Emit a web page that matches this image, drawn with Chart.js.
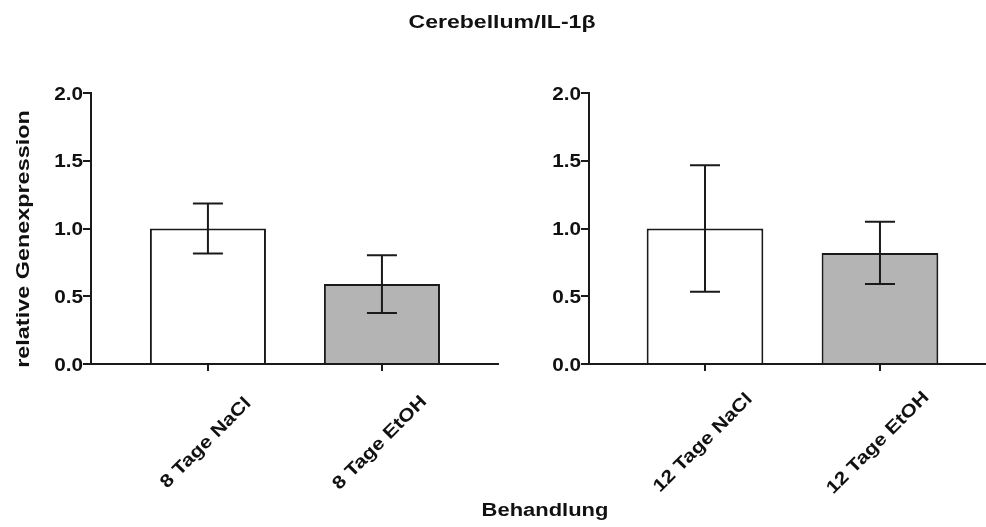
<!DOCTYPE html>
<html>
<head>
<meta charset="utf-8">
<script src="https://cdn.jsdelivr.net/npm/chart.js@4.4.1/dist/chart.umd.min.js"></script>
<style>
  html, body { margin: 0; padding: 0; background: #fff; }
  #wrap { position: relative; width: 986px; height: 527px; overflow: hidden;
          font-family: "Liberation Sans", Arial, sans-serif; font-weight: bold; color: #111;
          font-size: 18px; line-height: 18px; }
  canvas { position: absolute; top: 0; }
  .lbl { position: absolute; white-space: nowrap; text-align: center; height: 18px; }
</style>
</head>
<body>
<div id="wrap">
  <canvas id="panel8" width="500" height="527" style="left:0;width:500px;height:527px"></canvas>
  <canvas id="panel12" width="486" height="527" style="left:500px;width:486px;height:527px"></canvas>
  <div class="lbl" style="left:201.5px;top:12.8px;width:600px;transform:scaleX(1.28)">Cerebellum/IL-1β</div>
  <div class="lbl" style="left:-127.2px;top:229.5px;width:300px;transform:rotate(-90deg) scaleX(1.3)">relative Genexpression</div>
  <div class="lbl" style="left:395px;top:501px;width:300px;transform:scaleX(1.22)">Behandlung</div>
</div>
<script>
// Relative IL-1β expression in cerebellum, mean ± SEM
const categories8 = ['8 Tage NaCl', '8 Tage EtOH'];
const means8 = [1.0, 0.59];
const sem8 = [0.185, 0.213];

const categories12 = ['12 Tage NaCl', '12 Tage EtOH'];
const means12 = [1.0, 0.82];
const sem12 = [0.467, 0.23];

const yTickValues = [0, 0.5, 1.0, 1.5, 2.0];

const FONT = '"Liberation Sans", Arial, sans-serif';
const INK = '#1a1a1a';
const TEXT = '#111';
const FILLS = ['#ffffff', '#b4b4b4'];

// mean ± SEM whiskers with caps
const errorBarPlugin = {
  id: 'errorBars',
  afterDatasetsDraw(chart, args, opts) {
    const { ctx, scales: { x, y } } = chart;
    const means = opts.means, sems = opts.sems;
    ctx.save();
    ctx.strokeStyle = INK;
    ctx.lineWidth = 2;
    means.forEach((m, i) => {
      const px = x.getPixelForValue(i);
      const hi = y.getPixelForValue(m + sems[i]);
      const lo = y.getPixelForValue(m - sems[i]);
      ctx.beginPath();
      ctx.moveTo(px, hi); ctx.lineTo(px, lo);
      ctx.moveTo(px - 15, hi); ctx.lineTo(px + 15, hi);
      ctx.moveTo(px - 15, lo); ctx.lineTo(px + 15, lo);
      ctx.stroke();
    });
    ctx.restore();
  }
};

// wide bold labels: value ticks on the left, category names slanted at 45°
const axisLabelPlugin = {
  id: 'axisLabels',
  afterDraw(chart, args, opts) {
    const { ctx, chartArea, scales: { x, y } } = chart;
    ctx.save();
    ctx.fillStyle = TEXT;

    ctx.font = 'bold 18.5px ' + FONT;
    ctx.textAlign = 'right';
    ctx.textBaseline = 'middle';
    yTickValues.forEach(v => {
      ctx.save();
      ctx.translate(chartArea.left - 8, y.getPixelForValue(v) + 1.5);
      ctx.scale(1.12, 1);
      ctx.fillText(v.toFixed(1), 0, 0);
      ctx.restore();
    });

    ctx.font = 'bold 18px ' + FONT;
    ctx.textAlign = 'center';
    opts.labels.forEach((lab, i) => {
      ctx.save();
      ctx.translate(x.getPixelForValue(i) + opts.dx, opts.cy);
      ctx.rotate(-Math.PI / 4);
      ctx.scale(1.18, 1);
      ctx.fillText(lab, 0, 0);
      ctx.restore();
    });
    ctx.restore();
  }
};

function makePanel(id, categories, means, sems, xMin, xMax, axisWidth, padRight) {
  return new Chart(document.getElementById(id), {
    type: 'bar',
    data: {
      datasets: [{
        data: means.map((m, i) => ({ x: i, y: m })),
        backgroundColor: FILLS,
        borderColor: INK,
        borderWidth: 2,
        borderSkipped: 'start',
        barPercentage: 0.667,
        categoryPercentage: 1
      }]
    },
    options: {
      responsive: false,
      animation: false,
      devicePixelRatio: 1,
      layout: { padding: { top: 93, right: padRight, left: 0, bottom: 0 } },
      plugins: {
        legend: { display: false },
        tooltip: { enabled: false },
        errorBars: { means: means, sems: sems },
        axisLabels: { labels: categories, dx: -2, cy: 443 }
      },
      scales: {
        x: {
          type: 'linear',
          min: xMin, max: xMax,
          offset: false,
          grid: { display: true, drawOnChartArea: false, drawTicks: true, tickLength: 7,
                  color: INK, lineWidth: 2, offset: false },
          border: { display: true, color: INK, width: 2 },
          ticks: { display: false },
          afterBuildTicks: s => { s.ticks = categories.map((c, i) => ({ value: i })); },
          afterFit: s => { s.height = 163; }
        },
        y: {
          min: 0, max: 2,
          afterBuildTicks: s => { s.ticks = yTickValues.map(v => ({ value: v })); },
          grid: { display: true, drawOnChartArea: false, drawTicks: true, tickLength: 8,
                  color: INK, lineWidth: 2 },
          border: { display: true, color: INK, width: 2 },
          ticks: { display: false },
          afterFit: s => { s.width = axisWidth; }
        }
      }
    },
    plugins: [errorBarPlugin, axisLabelPlugin]
  });
}

makePanel('panel8', categories8, means8, sem8, -0.672, 1.667, 91, 2);
makePanel('panel12', categories12, means12, sem12, -0.663, 1.606, 89, 0);
</script>
</body>
</html>
